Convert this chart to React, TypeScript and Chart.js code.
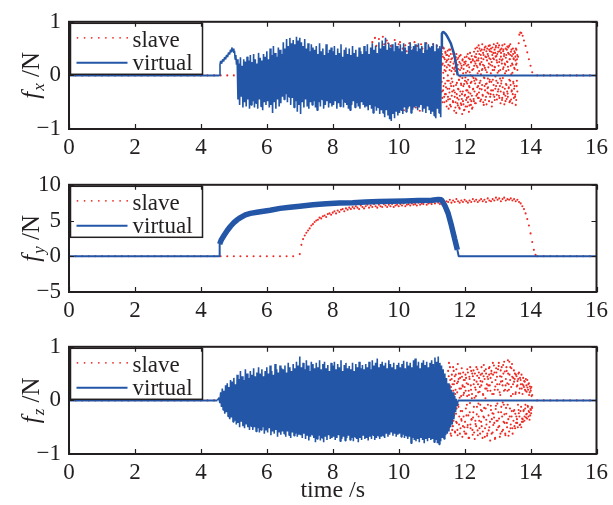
import React, { useEffect, useRef } from "react";
import { Chart, registerables } from "chart.js";

Chart.register(...registerables);

const FONT = '"Liberation Serif", "Times New Roman", Times, serif';
const INK = "#231f20";
const BLUE = "#2356a6";
const RED = "#ee2a24";

const X_MIN = 0;
const X_MAX = 16;
const X_STEP = 2;
const LEGEND_LABELS = ["slave", "virtual"];
const X_TITLE = "time /s";

// ---------------- f_x panel ----------------
const FX_RANGE = [-1, 1, 1];
const FX_VIRT_LEAD_T = [0, 4.55, 4.58, 4.6, 4.63, 4.66, 4.69, 4.72, 4.75, 4.78, 4.81, 4.84, 4.87, 4.9, 4.92, 4.94, 4.96, 4.98, 5.0, 5.02, 5.04, 5.06, 5.08];
const FX_VIRT_LEAD_Y = [0, 0, 0.2, 0.27, 0.22, 0.3, 0.26, 0.34, 0.3, 0.38, 0.34, 0.43, 0.39, 0.48, 0.44, 0.52, 0.46, 0.5, 0.42, 0.46, 0.3, 0.38, 0.2];
const FX_NOISE_START = 5.1;
const FX_NOISE_STEP = 0.05;
const FX_VIRT_HI = [
  30, 22, 34, 18, 30, 26, 35, 28,
  38, 25, 40, 30, 22, 42, 33, 28, 40, 35,
  45, 30, 50, 38, 55, 42, 35, 52, 48, 40,
  62, 50, 68, 55, 70, 60, 66, 58, 72, 65,
  70, 62, 55, 68, 50, 60, 45, 58, 52, 48,
  55, 40, 60, 45, 50, 38, 58, 42, 48, 52,
  45, 55, 38, 50, 42, 58, 35, 48, 52, 40,
  50, 38, 55, 42, 48, 35, 52, 45, 40, 55,
  45, 58, 40, 52, 60, 48, 55, 42, 62, 50,
  65, 55, 70, 48, 60, 52, 58, 45, 62, 55,
  50, 58, 45, 60, 52, 40, 55, 62, 48, 55,
  58, 45, 60, 50, 55, 42, 62, 48, 58, 52,
  55, 60, 45, 58, 50, 55,
];
const FX_VIRT_LO = [
  -45, -55, -40, -60, -50, -58, -45, -62,
  -55, -48, -60, -52, -62, -45, -58, -65, -50, -55,
  -48, -60, -55, -70, -50, -62, -45, -58, -52, -40,
  -45, -35, -50, -40, -55, -42, -60, -48, -68, -55,
  -72, -50, -60, -45, -58, -62, -50, -55, -48, -60,
  -65, -50, -58, -45, -62, -55, -48, -60, -52, -58,
  -55, -48, -62, -52, -58, -45, -60, -50, -55, -62,
  -65, -55, -48, -60, -52, -58, -62, -50, -55, -60,
  -58, -65, -55, -62, -70, -58, -66, -60, -72, -65,
  -70, -78, -65, -75, -82, -85, -72, -80, -68, -75,
  -70, -65, -72, -60, -68, -62, -58, -70, -64, -60,
  -58, -65, -60, -55, -68, -62, -70, -58, -65, -72,
  -68, -75, -80, -62, -70, -78,
];
const FX_VIRT_TAIL_T = [11.29, 11.31, 11.34, 11.38, 11.43, 11.48, 11.53, 11.58, 11.63, 11.68, 11.72, 11.76, 11.79, 16];
const FX_VIRT_TAIL_Y = [0.5, 0.78, 0.81, 0.8, 0.77, 0.72, 0.66, 0.6, 0.5, 0.4, 0.28, 0.12, 0, 0];

const FX_SLAVE_MID_START = 9.2;
const FX_SLAVE_MID_STEP = 0.04;
const FX_SLAVE_MID = [
  62, -40, 70, 55, -58, 68, 30, -62, 72, 58, -45, 65, 60, -70, 55, 48, -60, 66, 52, -55,
  58, 62, -48, 50, -65, 56, 45, -58, 60, 52, -50, 48, 62, -60, 55, 40, -66, 58, 50, -52,
  45, 60, -55, 52, 48, -62, 58, 42, -50, 55, -60, 50, 45,
];
const FX_SLAVE_CLOUD_START = 11.3;
const FX_SLAVE_CLOUD_STEP = 0.01;
const FX_SLAVE_CLOUD_A = [
  45, -30, 20, -50, 35, 5, -20, 50, -40, 10, 30, -15, 42, -35, 25, -48, 15, 38, -25, 0,
  -45, 30, -10, 48, -32, 18, -55, 25, 40, -20, 8, -38, 32, -12, 45, -50, 22, -28, 12, 35,
  -40, 15, -60, 28, -18, 40, -35, 5, -52, 20, -25, 33, -45, -8, 25, -62, 10, -30, 38, -15,
  -55, 18, -35, -5, 30, -48, -20, 12, -65, 25, -38, -10, 22, -58, 5, -28, 35, -42, -15, 8,
  -50, 20, -32, -68, 15, -22, 30, -45, 0, -55, 25, -12, -38, 10, -60, 28, -25, -5, -48, 18,
  -30, 35, -15, 22, -52, 40, -8, 28, -35, 15, 45, -20, 32, -42, 8, 50, -25, 20, -10, 38,
  -45, 25, 48, -18, 12, -38, 42, 30, -55, 18, -5, 52, -28, 35, 10, -40, 45, -15, 28, -32,
  40, -22, 15, 55, -48, 32, -8, 45, 20, -35, 50, -12, 25, -50, 38, 10, -28, 42, -18, 30,
  -40, 48, 15, -25, 35, 55, -10, 28, -45, 40, 5, -30, 52, 18, -38, 25, 45, -20, 10, -52,
  35, -15, 50, 22, -42, 30, -5, 45, 15, -35, 40, 58, -25, 20, -48, 33, 8, -18, 48, -30,
  25, -40, 42, 10, -22, 55, -50, 30, -10, 38, 18, -45, 48, -28, 22, 5, -35, 40, -15, 30,
  -25, 45, 12, -40, 35, -55, 20, 48, -20, 30, -30,
];
const FX_SLAVE_CLOUD_B = [
  -12, 40, -42, 22, -28, 52, -5, 33, -50, 18, -35, 44, 8, -22, 38, -58, 28, -10, 46, -40,
  20, -62, 36, -25, 10, -44, 48, -15, -58, 30, -6, 52, -30, 14, -48, 40, -20, 2, -66, 26,
  -32, 8, -50, 34, -70, 18, -14, -42, 30, -56, 12, -26, -8, -60, 36, -38, -2, 22, -52, -18,
  14, -44, -72, 28, -30, 4, -54, 20, -16, -64, 34, -36, -4, 26, -46, -12, 18, -58, -28, 40,
  -8, -40, 32, -20, -56, 6, 42, -34, -14, 24, -48, 36, -62, -2, 30, -26, 12, -44, 44, -10,
  26, -52, 50, -6, 34, -38, 18, 52, -22, 4, -42, 28, 56, -32, 40, -14, 22, -48, 46, 2,
  32, -26, 10, 58, -36, 20, -50, 38, -4, 48, -20, 14, -46, 54, -16, 34, -54, 6, 50, -24,
  -6, 36, -34, 22, 48, -12, 56, -40, 30, 4, -28, 44, -58, 18, 52, -8, 32, -36, 58, 10,
  16, -46, 42, -2, 52, -20, 36, -36, 24, 60, -14, 44, -26, 8, 56, -42, 30, -6, 48, -30,
  42, -10, 28, -46, 56, -22, 12, 48, -32, 36, -54, 22, 4, -38, 50, -16, 38, -44, 26, 54,
  -34, 16, 52, -24, 40, -8, 30, -48, 58, -18, 44, 2, -30, 36, -52, 20, 50, -12, 32, -42,
  14, -20, 42, -36, 28, 50, -46, 22, -10, 38,
];
const FX_SLAVE_ARC_T = [13.6, 13.62, 13.64, 13.66, 13.69, 13.72, 13.76, 13.8, 13.85, 13.9, 13.95, 14.0, 14.05];
const FX_SLAVE_ARC_Y = [0.1, 0.35, 0.6, 0.76, 0.8, 0.79, 0.74, 0.65, 0.55, 0.43, 0.3, 0.18, 0.06];

// ---------------- f_y panel ----------------
const FY_RANGE = [-5, 10, 5];
const FY_VIRT_T = [0, 4.55, 4.57, 4.62, 4.7, 4.8, 4.9, 5.0, 5.1, 5.2, 5.35, 5.5, 5.7, 5.9, 6.1, 6.4, 6.7, 7.0, 7.4, 7.8, 8.2, 8.6, 9.0, 9.4, 9.8, 10.2, 10.6, 11.0, 11.2, 11.3, 11.4, 11.5, 11.6, 11.7, 11.78, 11.82, 16];
const FY_VIRT_Y = [0, 0, 1.7, 2.3, 2.9, 3.6, 4.2, 4.7, 5.1, 5.4, 5.8, 6.0, 6.15, 6.3, 6.45, 6.7, 6.85, 7.0, 7.2, 7.35, 7.45, 7.5, 7.6, 7.65, 7.7, 7.75, 7.8, 7.85, 7.95, 7.9, 7.1, 6.0, 4.3, 2.4, 0.9, 0, 0];
const FY_SLAVE_START = 7.0;
const FY_SLAVE_STEP = 0.05;
const FY_SLAVE = [
  0.3, 1.6, 2.4, 2.9, 3.3, 3.6, 3.9, 4.3, 4.5, 4.8,
  5.0, 5.1, 5.4, 5.3, 5.6, 5.7, 5.5, 5.9, 6.0, 5.8,
  6.1, 6.3, 6.0, 6.4, 6.2, 6.5, 6.6, 6.3, 6.7, 6.5,
  6.8, 6.6, 6.9, 6.7, 7.0, 6.8, 6.6, 7.1, 6.9, 6.7,
  7.0, 7.2, 6.8, 7.1, 6.9, 7.3, 7.0, 6.8, 7.2, 7.0,
  6.9, 7.3, 7.1, 6.9, 7.2, 7.0, 7.3, 6.9, 7.1, 7.2,
  7.0, 7.3, 7.1, 7.4, 7.0, 7.2, 7.3, 7.1, 7.4, 7.2,
  7.3, 7.1, 7.5, 7.2, 7.4, 7.3, 7.6, 7.2, 7.4, 7.5,
  7.3, 7.6, 7.4, 7.7, 7.5, 7.3, 7.6, 7.8, 7.5, 7.7,
  7.6, 7.9, 7.5, 7.8, 7.6, 8.0, 7.7, 7.5, 7.8, 7.6,
  7.9, 7.7, 7.5, 7.8, 7.6, 8.0, 7.7, 7.9, 7.6, 7.8,
  8.0, 7.7, 7.9, 7.6, 8.1, 7.8, 7.7, 8.0, 7.8, 8.2,
  7.9, 8.1, 7.7, 8.0, 8.2, 7.8, 8.0, 7.9, 8.1, 7.8,
  8.0, 7.7, 7.9, 7.6, 7.4, 7.0, 6.6, 6.0, 5.2, 4.3,
  3.2, 2.0, 0.9, 0.2,
];

// ---------------- f_z panel ----------------
const FZ_RANGE = [-1, 1, 1];
const FZ_NOISE_START = 4.55;
const FZ_NOISE_STEP = 0.05;
const FZ_VIRT_HI = [
  5, 15, 22, 18, 28, 32, 25, 38, 35,
  42, 30, 48, 40, 55, 45, 38, 58, 50, 42,
  55, 48, 60, 45, 52, 62, 50, 58, 45, 55,
  62, 50, 65, 55, 48, 68, 58, 52, 65, 60,
  58, 65, 52, 70, 62, 55, 68, 60, 72, 65,
  82, 62, 70, 58, 75, 65, 55, 72, 68, 60,
  70, 62, 75, 58, 68, 72, 60, 66, 55, 70,
  65, 72, 58, 68, 62, 75, 55, 66, 70, 60,
  64, 58, 70, 55, 68, 62, 72, 60, 66, 58,
  68, 62, 72, 58, 75, 65, 70, 78, 62, 68,
  72, 65, 70, 60, 75, 68, 62, 70, 58, 66,
  70, 62, 68, 74, 60, 72, 65, 70, 62, 75,
  78, 65, 72, 60, 70, 75, 66, 72, 62, 70,
  75, 68, 80, 72, 82, 70, 65, 58, 50, 42,
  32, 28, 20, 15, 8, 3,
];
const FZ_VIRT_LO = [
  -5, -12, -18, -25, -22, -30, -35, -32, -40,
  -38, -45, -42, -50, -40, -48, -52, -45, -50, -55,
  -48, -55, -50, -58, -52, -60, -55, -50, -62, -56,
  -60, -52, -65, -58, -62, -55, -68, -60, -64, -58,
  -62, -68, -58, -65, -70, -60, -66, -62, -68, -64,
  -65, -70, -62, -72, -66, -75, -68, -64, -70, -78,
  -72, -66, -75, -70, -78, -68, -74, -65, -72, -70,
  -68, -74, -70, -65, -76, -72, -68, -75, -70, -66,
  -74, -70, -76, -68, -72, -78, -70, -74, -66, -72,
  -70, -75, -68, -72, -65, -74, -70, -66, -72, -68,
  -66, -70, -62, -68, -64, -60, -66, -62, -68, -64,
  -62, -68, -64, -70, -66, -72, -68, -80, -70, -74,
  -76, -72, -78, -70, -74, -80, -72, -76, -70, -74,
  -72, -78, -74, -80, -82, -76, -70, -72, -65, -62,
  -58, -50, -45, -35, -22, -10,
];
const FZ_VIRT_TAIL_T = [11.8, 16];
const FZ_VIRT_TAIL_Y = [0, 0];
const FZ_SLAVE_START = 11.5;
const FZ_SLAVE_STEP = 0.0125;
const FZ_SLAVE_A = [
  55, -30, 70, 12, -45, 38, -62, 25, -15, 48, -55, 8, 62, -38, 30, -8, 45, -60, 20, -25,
  58, -42, 15, -65, 35, -12, 50, -30, 5, 42, -52, 22, -35, 60, -20, 28, -48, 10, 38, -58,
  25, -40, 48, -15, -62, 32, 8, -50, 52, -28, 18, -70, 40, -5, -45, 28, 55, -35, 12, -55,
  45, -22, 30, -60, 5, 50, -38, 20, -48, 35, -12, 58, -65, 15, -30, 42, -52, 25, -8, 48,
  -40, 62, -20, 35, -58, 10, 45, -32, 55, -68, 22, -15, 50, -45, 30, -62, 18, 40, -28, 60,
  -50, 28, -75, 42, -18, 55, -35, 12, -60, 48, -25, 65, -42, 20, -70, 38, -10, 52, -55, 30,
  -38, 58, -22, 70, -48, 15, 45, -62, 35, -12, 62, -30, 28, -55, 50, -8, 72, -42, 20, -65,
  40, -25, 55, -50, 18, 75, -35, 30, -58, 48, -15, 62, -45, 25, -30, 68, -52, 12, 42, -20,
  35, -48, 50, -25, 15, -42, 45, -35, 28, -50, 40, -18, 52, -30, 22, -45, 38, -12, 48, -40,
  30, -35, 42, -20, 25, -38, 35, -15, 18, -32, 28, -25, 38, -10, 20, -30, 32, -22, 15, -28,
  22, -18, 25, -12, 10,
];
const FZ_SLAVE_B = [
  -22, 45, -50, 28, 62, -35, 5, -66, 40, -12, 30, -48, 18, 55, -28, 36, -58, 12, 48, -40,
  -15, 32, -55, 68, -8, 40, -45, 22, -62, 50, -20, 8, -38, 44, -68, 26, 52, -30, 14, -50,
  38, -62, 18, 42, -28, -8, 58, -46, 30, -70, 10, 44, -22, 62, -52, 20, -36, 4, 50, -64,
  -32, 56, -12, 38, -72, 24, -44, 8, 62, -26, 46, -56, 30, -6, 52, -38, 16, -62, 36, -18,
  28, -48, 50, -70, 12, -30, 66, -14, 40, -52, 4, 58, -36, 22, -66, 44, -8, 28, -56, 48,
  62, -40, 18, -10, 50, -62, 34, -24, 70, -46, 12, -32, 52, -72, 26, -16, 60, -38, 44, -6,
  20, -50, 64, -34, 30, -68, 10, 56, -22, 44, -58, 36, -4, 66, -40, 18, -26, 54, -62, 28,
  -14, 62, -42, 32, -8, 50, -66, 20, 72, -30, 38, -52, 8, 60, -20, 44, -62, 30, -38, 56,
  -18, 40, -52, 12, 48, -30, 26, -42, 36, -8, 50, -24, 14, -46, 42, -20, 30, -50, 22, -34,
  12, -40, 28, -18, 36, -30, 20, -8, 40, -26, 16, -34, 24, -12, 30, -20, 10, -36, 26, -16,
  18, -24, 8, -14,
];

// ---------------- helpers to build library tables ----------------
type Pt = { x: number; y: number };
const pairs = (xs: number[], ys: number[]): Pt[] => xs.map((x, i) => ({ x, y: ys[i] }));
const onGrid = (start: number, step: number, ys: number[], k = 1): Pt[] =>
  ys.map((y, i) => ({ x: start + i * step, y: y * k }));
const band = (start: number, step: number, hi: number[], lo: number[]): Pt[] =>
  hi.flatMap((h, i) => [
    { x: start + i * step, y: h / 100 },
    { x: start + i * step + step / 2, y: lo[i] / 100 },
  ]);
const zeros = (start: number, step: number, n: number): Pt[] =>
  Array.from({ length: n }, (_, i) => ({ x: start + i * step, y: 0 }));

type Spec = {
  sub: string;
  range: number[];
  virtual: Pt[];
  slave: Pt[];
  xTitle?: string;
  width: (x0: number, y0: number, x1: number, y1: number) => number;
};

const SPECS: Spec[] = [
  {
    sub: "x",
    range: FX_RANGE,
    virtual: [
      ...pairs(FX_VIRT_LEAD_T, FX_VIRT_LEAD_Y),
      ...band(FX_NOISE_START, FX_NOISE_STEP, FX_VIRT_HI, FX_VIRT_LO),
      ...pairs(FX_VIRT_TAIL_T, FX_VIRT_TAIL_Y),
    ],
    slave: [
      ...zeros(0, 0.2, 26),
      ...onGrid(FX_SLAVE_MID_START, FX_SLAVE_MID_STEP, FX_SLAVE_MID, 0.01),
      ...onGrid(FX_SLAVE_CLOUD_START, FX_SLAVE_CLOUD_STEP, FX_SLAVE_CLOUD_A, 0.01),
      ...onGrid(FX_SLAVE_CLOUD_START + FX_SLAVE_CLOUD_STEP / 2, FX_SLAVE_CLOUD_STEP, FX_SLAVE_CLOUD_B, 0.01),
      ...pairs(FX_SLAVE_ARC_T, FX_SLAVE_ARC_Y),
      ...zeros(14.2, 0.2, 10),
    ],
    width: (x0, y0, x1, y1) => (y0 === 0 && y1 === 0 ? 2 : x0 >= 11.28 ? 2.5 : 1.6),
  },
  {
    sub: "y",
    range: FY_RANGE,
    virtual: pairs(FY_VIRT_T, FY_VIRT_Y),
    slave: [
      ...zeros(0, 0.2, 35),
      ...onGrid(FY_SLAVE_START, FY_SLAVE_STEP, FY_SLAVE),
      ...zeros(14.2, 0.2, 10),
    ],
    width: (x0, y0, x1, y1) => (Math.min(y0, y1) > 0.3 ? 5.5 : 2),
  },
  {
    sub: "z",
    range: FZ_RANGE,
    virtual: [
      ...zeros(0, 4.5, 2),
      ...band(FZ_NOISE_START, FZ_NOISE_STEP, FZ_VIRT_HI, FZ_VIRT_LO),
      ...pairs(FZ_VIRT_TAIL_T, FZ_VIRT_TAIL_Y),
    ],
    slave: [
      ...zeros(0, 0.2, 23),
      ...onGrid(FZ_SLAVE_START, FZ_SLAVE_STEP, FZ_SLAVE_A, 0.01),
      ...onGrid(FZ_SLAVE_START + FZ_SLAVE_STEP / 2, FZ_SLAVE_STEP, FZ_SLAVE_B, 0.01),
      ...zeros(14.2, 0.2, 10),
    ],
    xTitle: X_TITLE,
    width: (x0, y0, x1, y1) => (y0 === 0 && y1 === 0 ? 2 : 1.6),
  },
];

const AREA_TOP = 19;
const AREA_H = 110;
const AXIS_W = 69;
const RIGHT_PAD = 13;
const TICK_FONT = 23;
const LEGEND_FONT = 23;
const TITLE_FONT = 24;
const YTITLE_FONT = 25;

function makePlugin(spec: Spec) {
  return {
    id: "matlabAxes",
    afterDraw(chart: any) {
      const { ctx, chartArea: a, scales } = chart;
      ctx.save();
      // legend
      const lx = a.left + 1.5;
      const ly = a.top + 1.5;
      const lw = 132;
      const lh = 51;
      ctx.fillStyle = "#fff";
      ctx.fillRect(lx, ly, lw, lh);
      ctx.strokeStyle = INK;
      ctx.lineWidth = 1.5;
      ctx.strokeRect(lx, ly, lw, lh);
      const ds = chart.data.datasets;
      ctx.fillStyle = RED;
      for (let k = 0; k < 8; k++) {
        ctx.beginPath();
        ctx.arc(lx + 7 + k * 7.1, ly + 14.5, 0.9, 0, Math.PI * 2);
        ctx.fill();
      }
      ctx.strokeStyle = BLUE;
      ctx.lineWidth = 2;
      ctx.beginPath();
      ctx.moveTo(lx + 6, ly + 39.5);
      ctx.lineTo(lx + 57, ly + 39.5);
      ctx.stroke();
      ctx.fillStyle = INK;
      ctx.font = `${LEGEND_FONT}px ${FONT}`;
      ctx.textBaseline = "alphabetic";
      ctx.textAlign = "left";
      ctx.fillText(ds[0].label, lx + 62, ly + 23.5);
      ctx.fillText(ds[1].label, lx + 62, ly + 46.5);

      // inward ticks
      ctx.strokeStyle = INK;
      ctx.lineWidth = 1.2;
      const tl = 5;
      ctx.beginPath();
      scales.x.ticks.forEach((t: any) => {
        const px = Math.round(scales.x.getPixelForValue(t.value)) + 0.5;
        ctx.moveTo(px, a.bottom);
        ctx.lineTo(px, a.bottom - tl);
        ctx.moveTo(px, a.top);
        ctx.lineTo(px, a.top + tl);
      });
      scales.y.ticks.forEach((t: any) => {
        const py = Math.round(scales.y.getPixelForValue(t.value)) + 0.5;
        ctx.moveTo(a.left, py);
        ctx.lineTo(a.left + tl, py);
        ctx.moveTo(a.right, py);
        ctx.lineTo(a.right - tl, py);
      });
      ctx.stroke();
      // frame
      ctx.lineWidth = 2;
      ctx.strokeRect(a.left, a.top, a.right - a.left, a.bottom - a.top);

      // y title  f_sub /N
      const cy = (a.top + a.bottom) / 2;
      ctx.translate(31, cy);
      ctx.rotate(-Math.PI / 2);
      const fMain = `italic ${YTITLE_FONT}px ${FONT}`;
      const fSub = `italic 17px ${FONT}`;
      const fRest = `${YTITLE_FONT}px ${FONT}`;
      ctx.font = fMain;
      const w1 = ctx.measureText("f").width;
      ctx.font = fSub;
      const w2 = ctx.measureText(spec.sub).width;
      ctx.font = fRest;
      const w3 = ctx.measureText(" /N").width;
      const total = w1 + w2 + w3 + 1;
      let x = -total / 2;
      const base = 8;
      ctx.fillStyle = INK;
      ctx.textAlign = "left";
      ctx.font = fMain;
      ctx.fillText("f", x, base);
      x += w1 + 1;
      ctx.font = fSub;
      ctx.fillText(spec.sub, x, base + 5);
      x += w2;
      ctx.font = fRest;
      ctx.fillText(" /N", x, base);
      ctx.restore();
    },
  };
}

function buildConfig(spec: Spec, canvasH: number): any {
  const [yMin, yMax, yStep] = spec.range;
  return {
    type: "scatter",
    data: {
      datasets: [
        {
          label: LEGEND_LABELS[0],
          data: spec.slave,
          showLine: false,
          pointRadius: 1.05,
          pointHoverRadius: 1,
          pointBorderWidth: 0,
          pointBackgroundColor: RED,
          backgroundColor: RED,
          borderColor: RED,
          order: 1,
        },
        {
          label: LEGEND_LABELS[1],
          data: spec.virtual,
          showLine: true,
          borderColor: BLUE,
          backgroundColor: BLUE,
          borderWidth: 1.5,
          borderJoinStyle: "bevel",
          pointRadius: 0,
          pointHoverRadius: 0,
          fill: false,
          tension: 0,
          order: 0,
          segment: {
            borderWidth: (c: any) => spec.width(c.p0.parsed.x, c.p0.parsed.y, c.p1.parsed.x, c.p1.parsed.y),
          },
        },
      ],
    },
    options: {
      responsive: false,
      animation: false,
      events: [],
      layout: { padding: { top: AREA_TOP, right: RIGHT_PAD, left: 0, bottom: 0 } },
      plugins: { legend: { display: false }, tooltip: { enabled: false }, title: { display: false } },
      scales: {
        x: {
          type: "linear",
          position: "bottom",
          min: X_MIN,
          max: X_MAX,
          ticks: {
            stepSize: X_STEP,
            font: { family: FONT, size: TICK_FONT },
            color: INK,
            padding: 5,
            maxRotation: 0,
            autoSkip: false,
          },
          grid: { display: false, drawTicks: false },
          border: { display: false },
          title: spec.xTitle
            ? { display: true, text: spec.xTitle, font: { family: FONT, size: TITLE_FONT }, color: INK, padding: 0 }
            : { display: false },
          afterFit: (s: any) => {
            s.height = canvasH - AREA_TOP - AREA_H;
          },
        },
        y: {
          type: "linear",
          position: "left",
          min: yMin,
          max: yMax,
          ticks: {
            stepSize: yStep,
            font: { family: FONT, size: TICK_FONT },
            color: INK,
            padding: 8,
            callback: (v: number) => (v < 0 ? "\u2212" + Math.abs(v) : String(v)),
          },
          grid: { display: false, drawTicks: false },
          border: { display: false },
          afterFit: (s: any) => {
            s.width = AXIS_W;
          },
        },
      },
    },
    plugins: [makePlugin(spec)],
  };
}

function Panel({ spec, top, height }: { spec: Spec; top: number; height: number }) {
  const ref = useRef<HTMLCanvasElement | null>(null);
  useEffect(() => {
    if (!ref.current) return;
    const chart = new Chart(ref.current, buildConfig(spec, height));
    return () => chart.destroy();
  }, [spec, height]);
  return (
    <canvas
      ref={ref}
      width={613}
      height={height}
      style={{ position: "absolute", left: 0, top, width: 613, height, display: "block" }}
    />
  );
}

export default function App() {
  return (
    <div style={{ position: "absolute", left: 0, top: 0, width: 613, height: 505, background: "#fff", overflow: "hidden" }}>
      <Panel spec={SPECS[0]} top={0} height={163} />
      <Panel spec={SPECS[1]} top={163} height={162} />
      <Panel spec={SPECS[2]} top={325} height={180} />
    </div>
  );
}
